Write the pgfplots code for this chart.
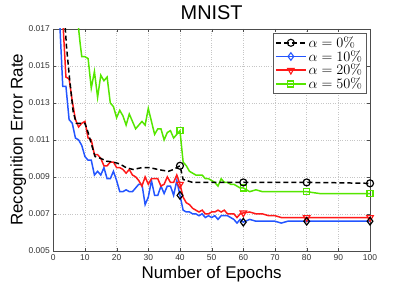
\documentclass[border=0pt]{standalone}
\usepackage[no-math]{fontspec}
\setmainfont{Liberation Sans}
\usepackage{pgfplots}
\pgfplotsset{compat=1.18}
\definecolor{mblue}{RGB}{35,85,255}
\definecolor{mred}{RGB}{255,25,25}
\definecolor{mgreen}{RGB}{85,230,0}
\begin{document}
\begin{tikzpicture}
\begin{axis}[
  scale only axis, width=317bp, height=222bp,
  xmin=0, xmax=100, ymin=0.005, ymax=0.017,
  xtick={0,10,...,100},
  ytick={0.005,0.007,0.009,0.011,0.013,0.015,0.017},
  scaled y ticks=false,
  yticklabel style={/pgf/number format/fixed,/pgf/number format/precision=3,/pgf/number format/fixed zerofill},
  /pgf/number format/assume math mode=true,
  tick label style={font=\fontsize{8.5}{10}\selectfont, text=black!80},
  grid=major, grid style={dotted, gray!45},
  tick align=inside, major tick length=3bp,
  tick style={black!70},
  axis line style={black!70},
  title={MNIST},
  every axis title/.style={font=\fontsize{20}{24}\selectfont, at={(axis description cs:0.5,1)}, anchor=base, yshift=9bp},
  xlabel={Number of Epochs},
  ylabel={Recognition Error Rate},
  xlabel style={font=\fontsize{17}{20}\selectfont, at={([yshift=-28bp]axis description cs:0.5,0)}, anchor=base},
  ylabel style={font=\fontsize{17}{20}\selectfont, at={([xshift=-30.6bp]axis description cs:0,0.5)}, anchor=base},
  legend cell align=left,
  legend style={at={(0.987,0.982)}, anchor=north east, draw=black!65, fill=white,
    font=\fontsize{13.5}{13.5}\selectfont, row sep=-2.5bp, inner sep=1.5bp},
  legend image code/.code={\draw[mark repeat=2,mark phase=2] plot coordinates {(0bp,0bp) (15bp,0bp) (30bp,0bp)};},
]
% legend entries
\addlegendimage{black, dash pattern=on 5bp off 3bp, line width=1.5pt, mark=o, mark size=3.5bp, mark options={solid, line width=1.1pt}}
\addlegendentry{$\alpha = 0\%$}
\addlegendimage{mblue, line width=1.5pt, mark=diamond, mark size=3.8bp, mark options={line width=1.1pt}}
\addlegendentry{$\alpha = 10\%$}
\addlegendimage{mred, line width=1.5pt, mark=triangle, mark size=3.8bp, mark options={rotate=180, line width=1.1pt}}
\addlegendentry{$\alpha = 20\%$}
\addlegendimage{mgreen, line width=1.5pt, mark=square, mark size=3bp, mark options={line width=1.1pt}}
\addlegendentry{$\alpha = 50\%$}

% green alpha=50%
\addplot[mgreen, line width=1.5pt, forget plot] coordinates {
(7.7,0.0175)(8.5,0.0162)(9,0.0155)(10,0.0155)(11,0.0154)(12,0.0138)(13,0.0147)(14,0.0133)(15,0.0145)(16,0.0142)(17,0.0144)(18,0.0130)(19,0.0128)(20,0.0122)(21,0.0126)(22,0.0123)(23,0.0118)(24,0.0124)(25,0.0120)(26,0.0116)(27,0.0118)(28,0.0120)(29,0.0118)(30,0.0127)(31,0.0120)(32,0.0113)(33,0.0116)(34,0.0116)(35,0.0110)(36,0.0114)(37,0.0115)(38,0.0111)(39,0.0113)(40,0.0115)(41,0.0098)(42,0.0096)(43,0.0093)(44,0.0092)(45,0.0091)(46,0.0091)(47,0.0091)(48,0.0089)(49,0.0089)(50,0.0088)(51,0.0087)(52,0.0085)(53,0.0089)(54,0.0087)(55,0.0087)(56,0.0086)(57,0.0086)(58,0.0085)(59,0.0084)(60,0.0084)(62,0.0082)(64,0.0083)(66,0.0082)(68,0.0082)(70,0.0082)(72,0.0082)(75,0.0082)(78,0.0082)(80,0.0082)(84,0.0081)(88,0.0081)(92,0.0081)(96,0.0081)(100,0.0081)
};
% blue alpha=10%
\addplot[mblue, line width=1.5pt, forget plot] coordinates {
(2,0.0175)(3,0.0139)(4,0.0139)(5,0.0121)(6,0.0119)(7,0.0111)(8,0.0110)(9,0.0107)(10,0.0101)(11,0.0099)(12,0.0099)(13,0.0091)(14,0.0093)(15,0.0091)(16,0.0095)(17,0.0089)(18,0.0089)(19,0.0093)(20,0.0088)(21,0.0082)(22,0.0082)(23,0.0083)(24,0.0082)(25,0.0082)(26,0.0084)(27,0.0086)(28,0.0086)(29,0.0075)(30,0.0079)(31,0.0088)(32,0.0080)(33,0.0080)(34,0.0085)(35,0.0081)(36,0.0085)(37,0.0085)(38,0.0080)(39,0.0088)(40,0.0080)(41,0.0072)(42,0.0071)(43,0.0071)(44,0.0070)(45,0.0070)(46,0.0069)(47,0.0070)(48,0.0068)(49,0.0069)(50,0.0068)(51,0.0069)(52,0.0067)(53,0.0069)(54,0.0069)(55,0.0069)(56,0.0068)(57,0.0067)(58,0.0065)(59,0.0067)(60,0.00655)(62,0.0067)(64,0.0066)(66,0.0066)(68,0.0066)(70,0.0066)(72,0.0065)(74,0.0066)(76,0.0066)(80,0.0066)(85,0.0066)(90,0.0066)(95,0.0066)(100,0.0066)
};
% red alpha=20%
\addplot[mred, line width=1.5pt, forget plot] coordinates {
(3,0.0175)(4,0.0144)(5,0.0143)(6,0.0131)(7,0.0121)(8,0.0117)(9,0.0119)(10,0.0120)(11,0.0111)(12,0.0110)(13,0.0102)(14,0.0102)(15,0.0100)(16,0.0096)(17,0.0096)(18,0.0098)(19,0.0098)(20,0.0095)(21,0.0095)(22,0.0094)(23,0.0092)(24,0.0094)(25,0.0091)(26,0.0090)(27,0.0088)(28,0.0085)(29,0.0090)(30,0.0086)(31,0.0089)(32,0.0089)(33,0.0089)(34,0.0085)(35,0.0086)(36,0.0090)(37,0.0087)(38,0.0087)(39,0.0091)(40,0.0086)(41,0.0079)(42,0.0076)(43,0.0075)(44,0.0073)(45,0.0072)(46,0.0071)(47,0.0072)(48,0.0070)(49,0.0070)(50,0.0071)(51,0.0071)(52,0.0072)(53,0.0071)(54,0.0072)(55,0.0070)(56,0.0070)(57,0.0070)(58,0.0068)(59,0.0070)(60,0.00705)(62,0.0071)(64,0.0070)(66,0.0070)(68,0.0069)(70,0.0069)(72,0.0068)(75,0.0068)(80,0.0068)(85,0.0068)(90,0.0068)(100,0.0068)
};
% black alpha=0%
\addplot[black, dash pattern=on 5bp off 3bp, line width=1.5pt, forget plot] coordinates {
(3.6,0.0175)(4.2,0.0160)(5.1,0.0144)(6.3,0.0125)(7.3,0.0119)(8,0.0119)(10,0.0119)(11,0.0114)(12,0.0108)(13.2,0.0101)(15,0.0100)(16.8,0.00985)(19,0.0098)(21,0.0097)(23,0.0095)(25.2,0.0094)(28,0.0095)(30.5,0.0095)(33,0.0094)(36.3,0.0093)(38,0.0094)(40,0.0096)(41,0.00886)(44,0.0087)(50,0.0087)(55,0.0087)(60,0.0087)(70,0.0087)(80,0.0087)(90,0.00868)(100,0.00865)
};
% markers
\addplot[only marks, mgreen, mark=square, mark size=3bp, line width=1.2pt, forget plot] coordinates {(40,0.0115)(60,0.0084)(80,0.0082)(100,0.0081)};
\addplot[only marks, mred, mark=triangle, mark size=3.8bp, mark options={rotate=180}, line width=1.2pt, forget plot] coordinates {(40,0.0086)(60,0.00705)(80,0.0068)(100,0.0068)};
\addplot[only marks, black, mark=diamond, mark size=3.8bp, line width=1.2pt, forget plot] coordinates {(40,0.0080)(60,0.00655)(80,0.0066)(100,0.0066)};
\addplot[only marks, black, mark=o, mark size=3.5bp, line width=1.2pt, forget plot] coordinates {(40,0.0096)(60,0.0087)(80,0.0087)(100,0.00865)};
\end{axis}
\pgfresetboundingbox
\path ([shift={(-53.3bp,-31.3bp)}]current axis.south west) rectangle ([shift={(39bp,29bp)}]current axis.north east);
\end{tikzpicture}
\end{document}
